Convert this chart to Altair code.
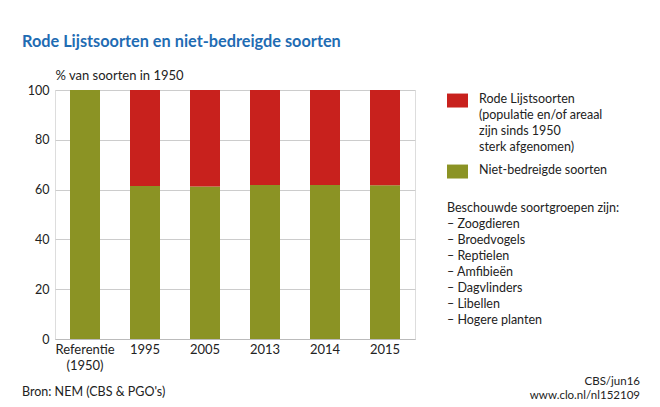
import altair as alt
import pandas as pd

categories = ["Referentie (1950)", "1995", "2005", "2013", "2014", "2015"]
niet_bedreigd = [100.0, 61.4, 61.2, 61.8, 61.8, 61.7]
rode_lijst = [round(100 - v, 1) for v in niet_bedreigd]

series_names = ["Rode Lijstsoorten|(populatie en/of areaal|zijn sinds 1950|sterk afgenomen)",
                "Niet-bedreigde soorten"]
series_colors = ["#c8211d", "#8b9324"]

y_ticks = [0, 20, 40, 60, 80, 100]

title_text = "Rode Lijstsoorten en niet-bedreigde soorten"
y_title = "% van soorten in 1950"
groups_lines = ["Beschouwde soortgroepen zijn:", "– Zoogdieren", "– Broedvogels", "– Reptielen",
                "– Amfibieën", "– Dagvlinders", "– Libellen", "– Hogere planten"]
source_text = "Bron: NEM (CBS & PGO's)"
credit_lines = ["CBS/jun16", "www.clo.nl/nl152109"]

FONT = "Lato"
TXT = "#222222"

rows = []
for i, c in enumerate(categories):
    rows.append({"cat": c, "serie": series_names[1], "val": niet_bedreigd[i], "ord": 0})
    rows.append({"cat": c, "serie": series_names[0], "val": rode_lijst[i], "ord": 1})
df = pd.DataFrame(rows)

bars = alt.Chart(df).mark_bar().encode(
    x=alt.X("cat:N", sort=categories,
            scale=alt.Scale(paddingInner=0.5, paddingOuter=0.25),
            axis=alt.Axis(title=None, labelAngle=0, labelExpr="split(datum.label, ' ')",
                          labelFont=FONT, labelFontSize=13, labelColor=TXT,
                          labelLineHeight=16, labelPadding=4, ticks=False,
                          domainColor="#bbbbbb", domainWidth=1)),
    y=alt.Y("val:Q", stack="zero",
            scale=alt.Scale(domain=[0, 100], nice=False),
            axis=alt.Axis(values=y_ticks, title=y_title, titleAngle=0, titleX=0, titleY=-15,
                          titleAlign="left", titleBaseline="middle", titleFont=FONT,
                          titleFontSize=13, titleFontWeight="normal", titleColor=TXT,
                          labelFont=FONT, labelFontSize=12.5, labelColor=TXT,
                          labelPadding=6, domain=False, ticks=False,
                          gridColor="#cccccc", gridWidth=1)),
    color=alt.Color("serie:N",
                    scale=alt.Scale(domain=series_names, range=series_colors),
                    legend=alt.Legend(title=None, orient="none", legendX=392, legendY=-8,
                                      symbolType="M-1,0.1H1V1.43H-1Z", symbolSize=441,
                                      symbolStrokeWidth=0, symbolOpacity=1,
                                      labelExpr="split(datum.label, '|')",
                                      labelBaseline="top",
                                      labelFont=FONT, labelFontSize=12.5, labelColor=TXT,
                                      labelOffset=11, labelLimit=300, rowPadding=-8)),
    order=alt.Order("ord:Q"),
)

groups = alt.Chart(pd.DataFrame({"t": [groups_lines]})).mark_text(
    align="left", baseline="middle", font=FONT, fontSize=12.5, color=TXT, lineHeight=16
).encode(text="t:N", x=alt.value(392), y=alt.value(118))

source = alt.Chart(pd.DataFrame({"t": [source_text]})).mark_text(
    align="left", baseline="middle", font=FONT, fontSize=12.5, color=TXT
).encode(text="t:N", x=alt.value(-33), y=alt.value(302))

credit = alt.Chart(pd.DataFrame({"t": [credit_lines]})).mark_text(
    align="right", baseline="middle", font=FONT, fontSize=11.5, color=TXT, lineHeight=14
).encode(text="t:N", x=alt.value(585), y=alt.value(292))

chart = alt.layer(bars, groups, source, credit).properties(
    width=360, height=249,
    autosize=alt.AutoSizeParams(type="none"),
    padding={"left": 47, "top": 82, "right": 237, "bottom": 62},
    title=alt.TitleParams(title_text, anchor="start", frame="group", dx=-33, offset=3,
                          font=FONT, fontSize=16.3, fontWeight="bold", color="#1f6cb3",
                          baseline="bottom"),
).configure_view(stroke=None).configure(style={"guide-label": {"lineHeight": 16}})

chart.save("out.html", embed_options={"renderer": "svg", "actions": False})
